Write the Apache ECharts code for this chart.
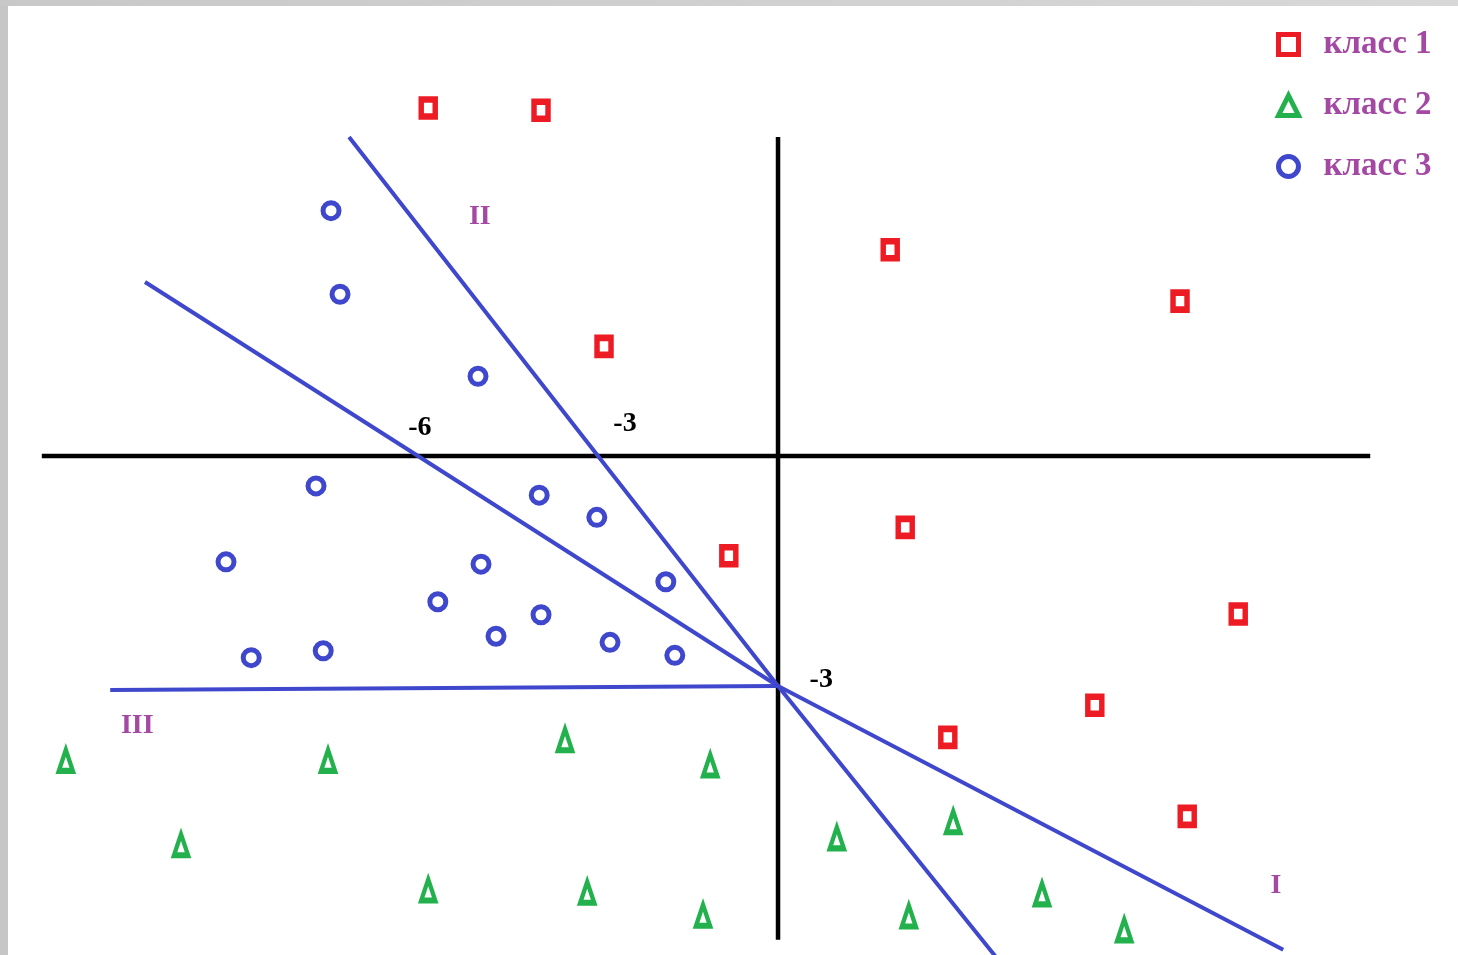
<!DOCTYPE html>
<html>
<head>
<meta charset="utf-8">
<script src="https://cdn.jsdelivr.net/npm/echarts@6/dist/echarts.min.js"></script>
<style>
  html, body { margin: 0; padding: 0; background: #fff; }
  #chart { width: 1458px; height: 955px; }
</style>
</head>
<body>
<div id="chart"></div>
<script>
// точки классов (x, y)
var class1 = [
  [-5.83, 4.54], [-3.95, 4.51], [1.87, 2.69], [6.70, 2.02], [-2.90, 1.43],
  [2.12, -0.93], [-0.82, -1.30], [7.67, -2.06], [5.28, -3.25], [2.83, -3.67],
  [6.82, -4.70]
]
var class2 = [
  [-11.87, -3.97], [-7.50, -3.97], [-3.55, -3.70], [-1.13, -4.03], [-9.95, -5.07],
  [-5.83, -5.66], [-3.18, -5.69], [-1.25, -5.99], [0.98, -4.98], [2.92, -4.77],
  [2.18, -6.00], [4.40, -5.71], [5.77, -6.18]
]
var class3 = [
  [-7.45, 3.20], [-7.30, 2.11], [-5.00, 1.04], [-7.70, -0.39], [-3.98, -0.51],
  [-3.02, -0.80], [-9.20, -1.38], [-4.95, -1.41], [-1.87, -1.64], [-5.67, -1.90],
  [-3.95, -2.07], [-4.70, -2.35], [-2.80, -2.43], [-1.72, -2.60], [-8.78, -2.63],
  [-7.58, -2.54]
]
// разделяющие прямые
var line1 = [[-7.15, 4.16], [-3, 0], [0, -3], [3.7, -6.6]]
var line2 = [[-10.55, 2.27], [-6, 0], [0, -3], [8.42, -6.44]]
var line3 = [[-11.13, -3.05], [0, -3]]
// оси
var axisX = [[-12.27, 0], [9.87, 0]]
var axisY = [[0, 4.16], [0, -6.31]]
// подписи
var tickLabels = [
  { value: [-5.97, 0.37], name: '-6' },
  { value: [-2.55, 0.42], name: '-3' },
  { value: [0.72, -2.92], name: '-3' }
]
var regionLabels = [
  { value: [-4.97, 3.12], name: 'II' },
  { value: [-10.68, -3.52], name: 'III' },
  { value: [8.3, -5.6], name: 'I' }
]

var RED = '#ed1c24'
var GREEN = '#22b14c'
var BLUE = '#3f48cc'
var PURPLE = '#a349a4'
var FONT = 'Liberation Serif'

function lineSeries (data, color, width) {
  return {
    type: 'line',
    data: data,
    showSymbol: false,
    silent: true,
    lineStyle: { color: color, width: width, opacity: 1 },
    z: 1
  }
}

function textSeries (data, color, size) {
  return {
    type: 'scatter',
    data: data,
    symbolSize: 0,
    silent: true,
    itemStyle: { opacity: 1 },
    label: {
      show: true,
      position: 'inside',
      formatter: '{b}',
      color: color,
      opacity: 1,
      fontFamily: FONT,
      fontWeight: 'bold',
      fontSize: size
    },
    z: 3
  }
}

var chart = echarts.init(document.getElementById('chart'))
chart.setOption({
  backgroundColor: '#fff',
  animation: false,
  grid: { left: 0, right: 0, top: 0, bottom: 0 },
  xAxis: { type: 'value', min: -12.967, max: 11.333, show: false },
  yAxis: { type: 'value', min: -6.508, max: 5.948, show: false },
  legend: {
    data: ['класс 1', 'класс 2', 'класс 3'],
    orient: 'vertical',
    left: 1271,
    top: 23,
    itemGap: 28,
    itemWidth: 20,
    itemHeight: 20,
    itemStyle: { borderWidth: 5 },
    textStyle: {
      color: PURPLE, fontFamily: FONT, fontWeight: 'bold', fontSize: 33,
      padding: [0, 0, 0, 20]
    }
  },
  graphic: [
    {
      type: 'rect',
      shape: { x: 0, y: 0, width: 8, height: 955 },
      style: { fill: '#c6c6c6' },
      silent: true
    },
    {
      type: 'rect',
      shape: { x: 0, y: 0, width: 1458, height: 6 },
      style: { fill: new echarts.graphic.LinearGradient(0, 0, 1, 0, [
        { offset: 0, color: '#c8c8c8' }, { offset: 1, color: '#d8d8d8' }
      ]) },
      silent: true
    }
  ],
  series: [
    lineSeries(axisX, '#000', 4.5),
    lineSeries(axisY, '#000', 4.5),
    lineSeries(line1, BLUE, 4),
    lineSeries(line2, BLUE, 4),
    lineSeries(line3, BLUE, 4),
    {
      name: 'класс 1',
      type: 'scatter',
      data: class1,
      symbol: 'rect',
      symbolSize: [14, 17],
      itemStyle: { color: '#fff', borderColor: RED, borderWidth: 6, opacity: 1 },
      z: 4
    },
    {
      name: 'класс 2',
      type: 'scatter',
      data: class2,
      symbol: 'triangle',
      symbolSize: [14, 21],
      itemStyle: { color: '#fff', borderColor: GREEN, borderWidth: 5, opacity: 1 },
      z: 4
    },
    {
      name: 'класс 3',
      type: 'scatter',
      data: class3,
      symbol: 'circle',
      symbolSize: 16,
      itemStyle: { color: '#fff', borderColor: BLUE, borderWidth: 5, opacity: 1 },
      z: 4
    },
    textSeries(tickLabels, '#000', 28),
    textSeries(regionLabels, PURPLE, 28)
  ]
})
</script>
</body>
</html>
